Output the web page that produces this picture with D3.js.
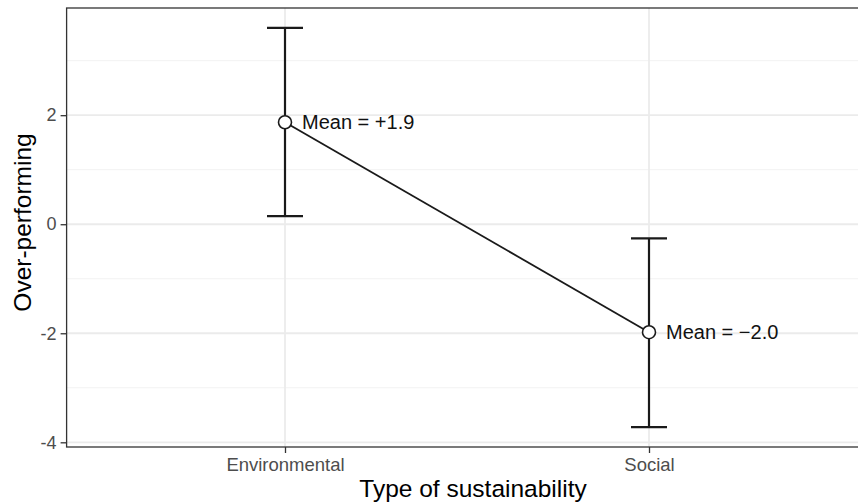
<!DOCTYPE html>
<html><head><meta charset="utf-8">
<script src="https://cdn.jsdelivr.net/npm/d3@7"></script>
<style>body{margin:0;background:#fff}svg{display:block;font-family:"Liberation Sans",Arial,sans-serif}</style>
</head><body><svg id="c" width="858" height="504"></svg>
<script>
const categories = ["Environmental", "Social"];
const means = [1.87, -1.98];
const upper = [3.60, -0.26];
const lower = [0.15, -3.72];
const meanLabels = ["Mean = +1.9", "Mean = \u22122.0"];
const yTicks = [-4, -2, 0, 2];
const yMinor = [-3, -1, 1, 3];

const svg = d3.select("#c");
const L = 66.6, R = 867.4, T = 8, B = 447;
const lo = d3.min(lower), hi = d3.max(upper), ex = (hi - lo) * 0.05;
const y = d3.scaleLinear().domain([lo - ex, hi + ex]).range([B, T]);
const x = d3.scalePoint().domain(categories).range([L, R]).padding(0.6);

const g = svg.append("g");
g.append("rect").attr("x", L).attr("y", T).attr("width", R - L).attr("height", B - T).attr("fill", "#fff");
g.selectAll(".mn").data(yMinor).join("line").attr("x1", L).attr("x2", R)
  .attr("y1", d => y(d)).attr("y2", d => y(d)).attr("stroke", "#f2f2f2").attr("stroke-width", 1);
g.selectAll(".mj").data(yTicks).join("line").attr("x1", L).attr("x2", R)
  .attr("y1", d => y(d)).attr("y2", d => y(d)).attr("stroke", "#ebebeb").attr("stroke-width", 1.8);
g.selectAll(".vx").data(categories).join("line").attr("y1", T).attr("y2", B)
  .attr("x1", d => x(d)).attr("x2", d => x(d)).attr("stroke", "#ebebeb").attr("stroke-width", 1.8);

// axes
const ya = d3.axisLeft(y).tickValues(yTicks).tickSize(6).tickPadding(4).tickFormat(d => String(d));
const yg = svg.append("g").attr("transform", `translate(${L},0)`).call(ya);
yg.select(".domain").remove();
yg.selectAll(".tick line").attr("stroke", "#333").attr("stroke-width", 1.3);
yg.selectAll(".tick text").attr("fill", "#4d4d4d").attr("font-size", 18).attr("font-family", "Liberation Sans, Arial, sans-serif");

const xa = d3.axisBottom(x).tickSize(6).tickPadding(5);
const xg = svg.append("g").attr("transform", `translate(0,${B})`).call(xa);
xg.select(".domain").remove();
xg.selectAll(".tick line").attr("stroke", "#333").attr("stroke-width", 1.3);
xg.selectAll(".tick text").attr("fill", "#4d4d4d").attr("font-size", 18.5).attr("font-family", "Liberation Sans, Arial, sans-serif");

// panel border
svg.append("rect").attr("x", L).attr("y", T).attr("width", R - L).attr("height", B - T)
  .attr("fill", "none").attr("stroke", "#333").attr("stroke-width", 1.3);

const data = categories.map((c, i) => ({c, m: means[i], u: upper[i], l: lower[i], lab: meanLabels[i]}));
const cap = 18;
const eb = svg.append("g").attr("stroke", "#1a1a1a").attr("stroke-width", 2.2);
eb.selectAll(".v").data(data).join("line").attr("x1", d => x(d.c)).attr("x2", d => x(d.c))
  .attr("y1", d => y(d.u)).attr("y2", d => y(d.l));
eb.selectAll(".tc").data(data).join("line").attr("x1", d => x(d.c) - cap).attr("x2", d => x(d.c) + cap)
  .attr("y1", d => y(d.u)).attr("y2", d => y(d.u));
eb.selectAll(".bc").data(data).join("line").attr("x1", d => x(d.c) - cap).attr("x2", d => x(d.c) + cap)
  .attr("y1", d => y(d.l)).attr("y2", d => y(d.l));

svg.append("path").datum(data).attr("fill", "none").attr("stroke", "#1a1a1a").attr("stroke-width", 1.8)
  .attr("d", d3.line().x(d => x(d.c)).y(d => y(d.m)));

svg.selectAll(".pt").data(data).join("circle").attr("cx", d => x(d.c)).attr("cy", d => y(d.m))
  .attr("r", 6.5).attr("fill", "#fff").attr("stroke", "#1a1a1a").attr("stroke-width", 1.6);

svg.selectAll(".lab").data(data).join("text").attr("x", d => x(d.c) + 17).attr("y", d => y(d.m))
  .attr("dy", "0.35em").attr("font-size", 20).attr("fill", "#111").text(d => d.lab);

svg.append("text").attr("x", (L + R) / 2 + 6).attr("y", 497).attr("text-anchor", "middle")
  .attr("font-size", 24.5).attr("fill", "#000").text("Type of sustainability");
svg.append("text").attr("transform", `translate(31,${(T + B) / 2 - 5}) rotate(-90)`).attr("text-anchor", "middle")
  .attr("font-size", 24.5).attr("fill", "#000").text("Over-performing");
</script></body></html>
